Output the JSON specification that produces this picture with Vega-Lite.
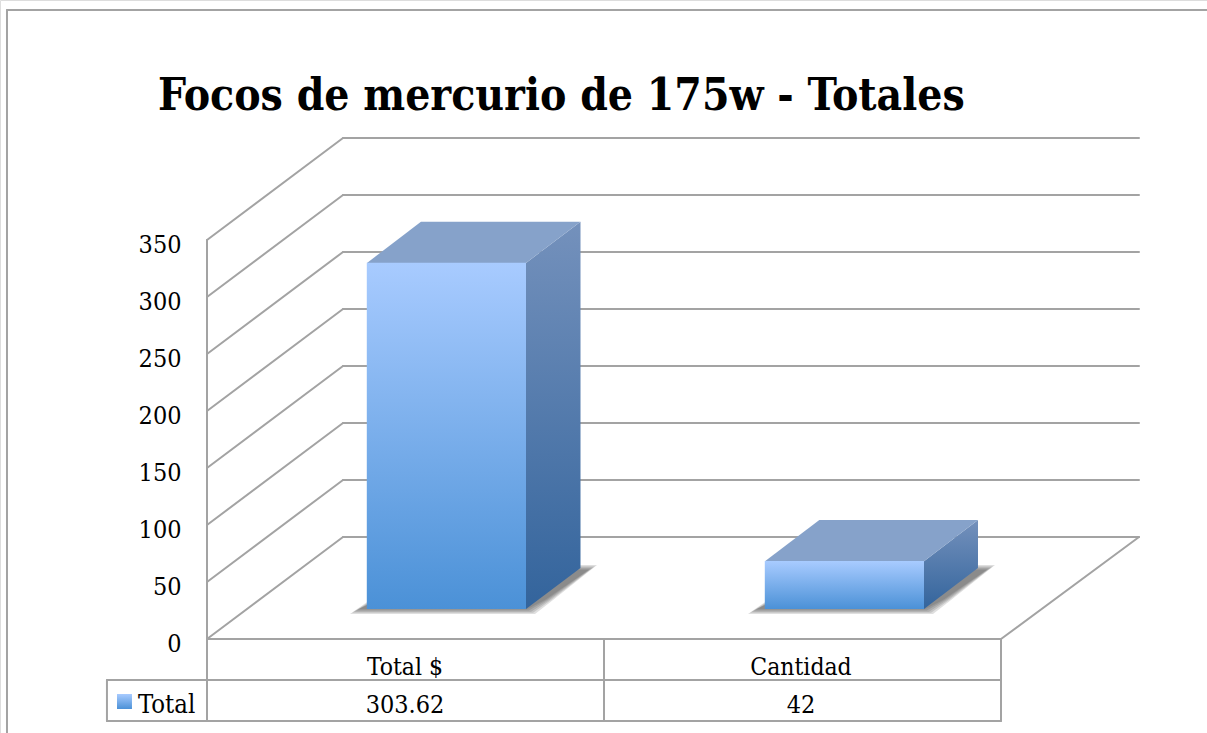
{
"$schema":"https://vega.github.io/schema/vega-lite/v6.json",
"width":1207,"height":733,"padding":0,"autosize":"none","background":"white",
"title":{"text":"Focos de mercurio de 175w - Totales","anchor":"start","frame":"group","orient":"top","dx":158,"dy":154,"offset":0,"baseline":"alphabetic","font":"DejaVu Serif Condensed","fontWeight":"bold","fontSize":44,"color":"#000000"},
"datasets":{
"bars":[{"category":"Total $","value":303.62},{"category":"Cantidad","value":42}],
"segments":[
{"u1":0,"v1":0,"u2":0.3426,"v2":89.5},{"u1":0.3426,"v1":89.5,"u2":2.3476,"v2":89.5},{"u1":2.3476,"v1":89.5,"u2":2,"v2":0},{"u1":0,"v1":0,"u2":2,"v2":0},
{"u1":0,"v1":50,"u2":0.3426,"v2":139.5},{"u1":0.3426,"v1":139.5,"u2":2.3476,"v2":139.5},
{"u1":0,"v1":100,"u2":0.3426,"v2":189.5},{"u1":0.3426,"v1":189.5,"u2":2.3476,"v2":189.5},
{"u1":0,"v1":150,"u2":0.3426,"v2":239.5},{"u1":0.3426,"v1":239.5,"u2":2.3476,"v2":239.5},
{"u1":0,"v1":200,"u2":0.3426,"v2":289.5},{"u1":0.3426,"v1":289.5,"u2":2.3476,"v2":289.5},
{"u1":0,"v1":250,"u2":0.3426,"v2":339.5},{"u1":0.3426,"v1":339.5,"u2":2.3476,"v2":339.5},
{"u1":0,"v1":300,"u2":0.3426,"v2":389.5},{"u1":0.3426,"v1":389.5,"u2":2.3476,"v2":389.5},
{"u1":0,"v1":350,"u2":0.3426,"v2":439.5},{"u1":0.3426,"v1":439.5,"u2":2.3476,"v2":439.5},
{"u1":0,"v1":-71.9,"u2":0,"v2":350},
{"u1":-0.252,"v1":-36,"u2":2,"v2":-36},{"u1":-0.252,"v1":-71.9,"u2":2,"v2":-71.9},
{"u1":-0.252,"v1":-36,"u2":-0.252,"v2":-71.9},{"u1":1,"v1":0,"u2":1,"v2":-71.9},{"u1":2,"v1":0,"u2":2,"v2":-71.9},
{"u1":-0.5038,"v1":-82.5,"u2":-0.5038,"v2":551.75},{"u1":-0.5038,"v1":551.75,"u2":2.54,"v2":551.75}
],
"shadows":[
{"part":"a0","v":21.9,"u":0.3602,"u2":0.8262},{"part":"a0","v":34.2,"u":0.4106,"u2":0.8715},{"part":"a0","v":64.9,"u":0.5365,"u2":0.9824},
{"part":"a1","v":23.0,"u":0.3653,"u2":0.8212},{"part":"a1","v":34.2,"u":0.4156,"u2":0.8665},{"part":"a1","v":63.85,"u":0.5415,"u2":0.9773},
{"part":"a2","v":24.0,"u":0.3703,"u2":0.8161},{"part":"a2","v":34.2,"u":0.4207,"u2":0.8615},{"part":"a2","v":62.8,"u":0.5466,"u2":0.9723},
{"part":"a3","v":25.05,"u":0.3754,"u2":0.8110},{"part":"a3","v":34.2,"u":0.4257,"u2":0.8564},{"part":"a3","v":61.75,"u":0.5516,"u2":0.9672},
{"part":"a4","v":26.1,"u":0.3804,"u2":0.8060},{"part":"a4","v":34.2,"u":0.4307,"u2":0.8514},{"part":"a4","v":60.7,"u":0.5567,"u2":0.9622},
{"part":"b0","v":21.9,"u":1.3627,"u2":1.8287},{"part":"b0","v":34.2,"u":1.4131,"u2":1.8740},{"part":"b0","v":64.9,"u":1.5390,"u2":1.9849},
{"part":"b1","v":23.0,"u":1.3678,"u2":1.8237},{"part":"b1","v":34.2,"u":1.4181,"u2":1.8690},{"part":"b1","v":63.85,"u":1.5440,"u2":1.9798},
{"part":"b2","v":24.0,"u":1.3728,"u2":1.8186},{"part":"b2","v":34.2,"u":1.4232,"u2":1.8640},{"part":"b2","v":62.8,"u":1.5491,"u2":1.9748},
{"part":"b3","v":25.05,"u":1.3779,"u2":1.8135},{"part":"b3","v":34.2,"u":1.4282,"u2":1.8589},{"part":"b3","v":61.75,"u":1.5541,"u2":1.9697},
{"part":"b4","v":26.1,"u":1.3829,"u2":1.8085},{"part":"b4","v":34.2,"u":1.4332,"u2":1.8539},{"part":"b4","v":60.7,"u":1.5592,"u2":1.9647}
],
"sides":[
{"category":"Total $","u":0.8035,"top":329.92,"base":26.3},{"category":"Total $","u":0.9408,"top":365.92,"base":62.3},
{"category":"Cantidad","u":1.806,"top":68.3,"base":26.3},{"category":"Cantidad","u":1.942,"top":104.3,"base":62.3}
],
"tops":[
{"category":"Total $","v":329.92,"u":0.403,"u2":0.8035},{"category":"Total $","v":365.92,"u":0.539,"u2":0.9408},
{"category":"Cantidad","v":68.3,"u":1.4055,"u2":1.806},{"category":"Cantidad","v":104.3,"u":1.5424,"u2":1.942}
],
"series":[{"series":"Total"}]
},
"resolve":{"scale":{"x":"independent"}},
"layer":[
{"data":{"name":"segments"},"mark":{"type":"rule","stroke":"#a3a3a3","strokeWidth":2,"strokeCap":"round"},
 "encoding":{
  "x":{"field":"u1","type":"quantitative","scale":{"domain":[0,2],"range":[207,1001],"nice":false,"zero":false},"axis":null},
  "x2":{"field":"u2"},
  "y":{"field":"v1","type":"quantitative","title":null,"scale":{"domain":[0,350],"range":[639,240],"nice":false,"zero":false},
   "axis":{"orient":"left","offset":-181,"values":[0,50,100,150,200,250,300,350],"domain":false,"ticks":false,"grid":false,"title":null,"labelPadding":0,"labelFont":"DejaVu Serif Condensed","labelFontSize":25,"labelColor":"#000000","labelOffset":4,"labelBaseline":"middle","labelOverlap":false}},
  "y2":{"field":"v2"}}},
{"data":{"name":"shadows"},"mark":{"type":"area","orient":"horizontal","fill":"#444444","fillOpacity":0.17,"line":false},
 "encoding":{
  "detail":{"field":"part"},
  "x":{"field":"u","type":"quantitative","scale":{"domain":[0,2],"range":[207,1001],"nice":false,"zero":false},"axis":null},
  "x2":{"field":"u2"},
  "y":{"field":"v","type":"quantitative","title":null}}},
{"data":{"name":"sides"},"mark":{"type":"area","line":false,"fill":{"x1":0,"y1":0,"x2":0,"y2":1,"gradient":"linear","stops":[{"offset":0,"color":"#7491bc"},{"offset":1,"color":"#33649c"}]}},
 "encoding":{
  "detail":{"field":"category"},
  "x":{"field":"u","type":"quantitative","scale":{"domain":[0,2],"range":[207,1001],"nice":false,"zero":false},"axis":null},
  "y":{"field":"top","type":"quantitative","title":null},
  "y2":{"field":"base"}}},
{"data":{"name":"tops"},"mark":{"type":"area","orient":"horizontal","fill":"#86a2ca","line":false},
 "encoding":{
  "detail":{"field":"category"},
  "x":{"field":"u","type":"quantitative","scale":{"domain":[0,2],"range":[207,1001],"nice":false,"zero":false},"axis":null},
  "x2":{"field":"u2"},
  "y":{"field":"v","type":"quantitative","title":null}}},
{"data":{"name":"bars"},"mark":{"type":"bar","xOffset":40.4,"x2Offset":40.4,"yOffset":-30,"y2Offset":-30,"fill":{"x1":0,"y1":0,"x2":0,"y2":1,"gradient":"linear","stops":[{"offset":0,"color":"#a8cbff"},{"offset":1,"color":"#4b91d7"}]}},
 "encoding":{
  "x":{"field":"category","type":"nominal","sort":null,"scale":{"type":"band","domain":["Total $","Cantidad"],"range":[207,1003],"paddingInner":0.6,"paddingOuter":0.3},"axis":null},
  "y":{"field":"value","type":"quantitative","title":null},
  "y2":{"datum":0}}},
{"data":{"name":"bars"},"mark":{"type":"text","font":"DejaVu Serif Condensed","fontSize":24.5,"color":"#000000","align":"center","baseline":"middle"},
 "encoding":{
  "x":{"field":"category","type":"nominal","sort":null,"scale":{"type":"band","domain":["Total $","Cantidad"],"range":[207,999]},"axis":null},
  "y":{"datum":-25,"type":"quantitative","title":null},
  "text":{"field":"category"}}},
{"data":{"name":"bars"},"mark":{"type":"text","font":"DejaVu Serif Condensed","fontSize":25,"color":"#000000","align":"center","baseline":"middle"},
 "encoding":{
  "x":{"field":"category","type":"nominal","sort":null,"scale":{"type":"band","domain":["Total $","Cantidad"],"range":[207,999]},"axis":null},
  "y":{"datum":-58,"type":"quantitative","title":null},
  "text":{"field":"value","type":"quantitative"}}},
{"data":{"name":"series"},"mark":{"type":"text","font":"DejaVu Serif Condensed","fontSize":25.5,"color":"#000000","align":"left","baseline":"middle"},
 "encoding":{
  "x":{"datum":-0.174,"type":"quantitative","scale":{"domain":[0,2],"range":[207,1001],"nice":false,"zero":false},"axis":null},
  "y":{"datum":-58,"type":"quantitative","title":null},
  "text":{"field":"series"}}},
{"data":{"name":"series"},"mark":{"type":"rect","fill":{"x1":0,"y1":0,"x2":0,"y2":1,"gradient":"linear","stops":[{"offset":0,"color":"#a8cbff"},{"offset":1,"color":"#4b91d7"}]}},
 "encoding":{
  "x":{"datum":-0.2267,"type":"quantitative","scale":{"domain":[0,2],"range":[207,1001],"nice":false,"zero":false},"axis":null},
  "x2":{"datum":-0.189},
  "y":{"datum":-61.4,"type":"quantitative","title":null},
  "y2":{"datum":-48.2}}}
]
}
